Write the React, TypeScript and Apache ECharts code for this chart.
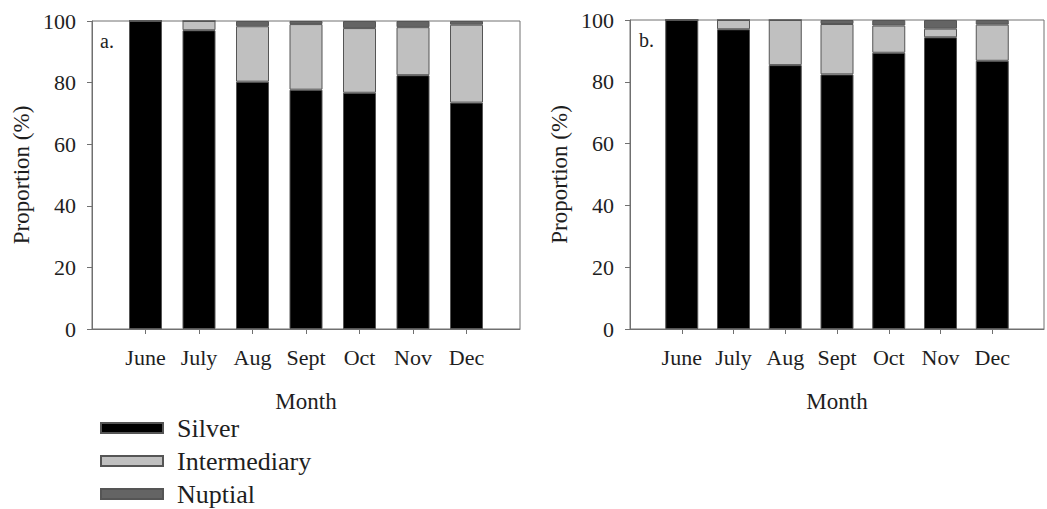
import React, { useEffect, useRef } from "react";
import * as echarts from "echarts";

const months = ["June", "July", "Aug", "Sept", "Oct", "Nov", "Dec"];
const yTicks = [0, 20, 40, 60, 80, 100];

// Panel a
const silverA = [100, 97, 80.3, 77.7, 76.7, 82.4, 73.5];
const interA = [0, 3, 18, 21.3, 21, 15.6, 25.3];
const nuptialA = [0, 0, 1.7, 1, 2.3, 2, 1.2];

// Panel b
const silverB = [100, 97, 85.4, 82.4, 89.4, 94.4, 86.8];
const interB = [0, 3, 14.6, 16.3, 8.8, 2.8, 11.7];
const nuptialB = [0, 0, 0, 1.3, 1.8, 2.8, 1.5];

const seriesNames = ["Silver", "Intermediary", "Nuptial"];
const colors = ["#000000", "#c0c0c0", "#646464"];

const FONT = "Liberation Serif";
const TXT = "#1e1e1e";
const AX = "#707070";

export default function App() {
  const ref = useRef<HTMLDivElement>(null);
  useEffect(() => {
    if (!ref.current) return;
    const chart = echarts.init(ref.current, undefined, { renderer: "svg" });
    const cats = ["", ...months, ""];
    const pad = (arr: number[]) => [null, ...arr, null];
    const grids = [
      { left: 92, top: 21, width: 428, height: 308 },
      { left: 630, top: 20, width: 428, height: 309 },
    ];
    const xAxes = grids.map((_, i) => ({
      type: "category" as const,
      gridIndex: i,
      data: cats,
      boundaryGap: false,
      name: "Month",
      nameLocation: "middle" as const,
      nameGap: 61,
      nameTextStyle: { fontFamily: FONT, fontSize: 23, color: TXT },
      axisLine: { lineStyle: { color: AX, width: 1 } },
      axisTick: {
        show: true,
        length: 5,
        inside: false,
        interval: (idx: number) => idx > 0 && idx < cats.length - 1,
        lineStyle: { color: AX },
      },
      axisLabel: {
        fontFamily: FONT,
        fontSize: 22,
        color: TXT,
        margin: 17,
        interval: 0,
      },
      splitLine: { show: false },
    }));
    const yAxes = grids.map((_, i) => ({
      type: "value" as const,
      gridIndex: i,
      min: yTicks[0],
      max: yTicks[yTicks.length - 1],
      interval: yTicks[1] - yTicks[0],
      name: "Proportion (%)",
      nameLocation: "middle" as const,
      nameRotate: 90,
      nameGap: 59,
      nameTextStyle: { fontFamily: FONT, fontSize: 23, color: TXT },
      axisLine: { show: true, lineStyle: { color: AX, width: 1 } },
      axisTick: { show: true, length: 5, lineStyle: { color: AX } },
      axisLabel: { fontFamily: FONT, fontSize: 22, color: TXT, margin: 16 },
      splitLine: { show: false },
    }));
    const panelData = [
      [silverA, interA, nuptialA],
      [silverB, interB, nuptialB],
    ];
    const series: any[] = [];
    panelData.forEach((sets, gi) => {
      sets.forEach((vals, si) => {
        series.push({
          type: "bar",
          name: seriesNames[si],
          xAxisIndex: gi,
          yAxisIndex: gi,
          stack: "p" + gi,
          barWidth: 33,
          data: pad(vals),
          itemStyle: {
            color: colors[si],
            borderColor: "#555555",
            borderWidth: 1,
          },
        });
      });
    });
    const legendTops = [415, 448, 481];
    chart.setOption({
      animation: false,
      backgroundColor: "#ffffff",
      grid: grids.map((g) => ({
        ...g,
        show: true,
        borderColor: AX,
        borderWidth: 1,
        backgroundColor: "transparent",
        containLabel: false,
      })),
      xAxis: xAxes,
      yAxis: yAxes,
      legend: seriesNames.map((name, i) => ({
        orient: "vertical",
        left: 100,
        top: legendTops[i],
        padding: 0,
        itemWidth: 62,
        itemHeight: 10,
        icon: "rect",
        data: [name],
        textStyle: {
          fontFamily: FONT,
          fontSize: 26,
          lineHeight: 26,
          color: TXT,
          padding: [0, 0, 0, 9],
        },
      })),
      graphic: [
        {
          type: "text",
          left: 100,
          top: 31,
          style: { text: "a.", fontFamily: FONT, fontSize: 20, fill: TXT },
        },
        {
          type: "text",
          left: 639,
          top: 30,
          style: { text: "b.", fontFamily: FONT, fontSize: 20, fill: TXT },
        },
      ],
      series,
    });
    return () => chart.dispose();
  }, []);
  return (
    <div
      ref={ref}
      style={{ position: "absolute", left: 0, top: 0, width: 1047, height: 509 }}
    />
  );
}
